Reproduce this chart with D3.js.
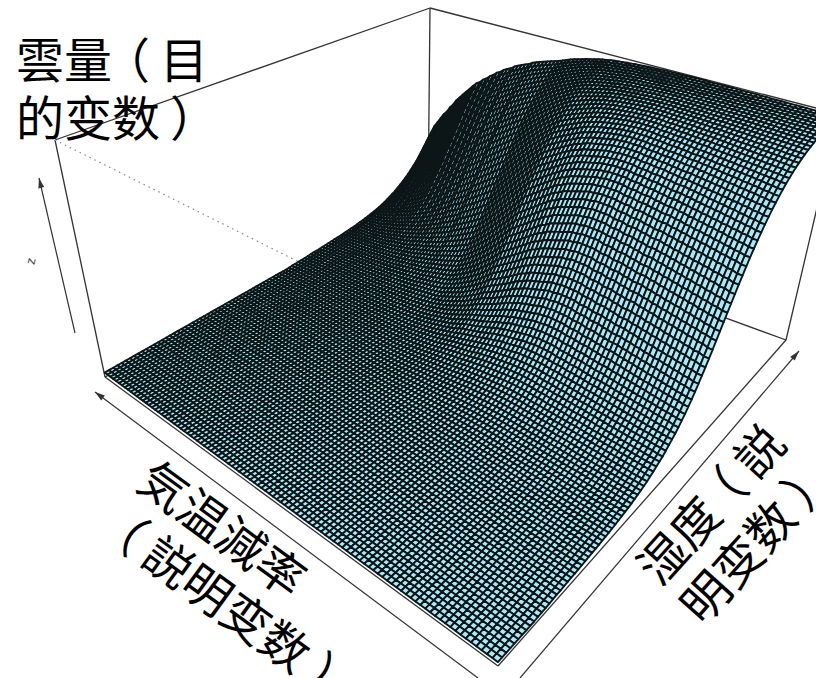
<!DOCTYPE html>
<meta charset="utf-8">
<style>
html, body { margin: 0; background: #fff; overflow: hidden; }
svg { display: block; }
.label { font-family: "Noto Sans CJK TC", "Noto Sans CJK JP", sans-serif; font-size: 48px; fill: #000; }
.box { stroke: #333; stroke-width: 1.3; fill: none; }
.hidden { stroke: #888; stroke-width: 1.2; stroke-dasharray: 1.5 4; fill: none; }
.arrow { stroke: #333; stroke-width: 1.2; fill: none; }
</style>
<body>
<script src="https://d3js.org/d3.v7.min.js"></script>
<script>
var riseProfile = [
  6,6,6,6,6,7,7,7,7,7,7,8,8,8,8,8,8,8,9,9,
  9,9,9,9,10,10,10,10,11,11,11,11,11,12,12,12,12,12,13,13,
  13,13,13,13,14,14,14,14,14,15,15,15,15,15,16,16,16,16,16,17,
  17,17,17,18,18,18,18,19,19,19,19,20,20,20,21,21,21,22,22,22,
  23,23,23,24,24,24,25,25,25,26,26,27,27,27,28,28,29,29,30,30,
  31,32,32,33,33,34,35,35,36,36,37,38,38,39,39,40,41,42,43,44,
  45,46,46,47,48,49,50,51,52,53,54,55,56,57,58,60,61,62,64,65,
  67,69,70,72,73,75,77,78,80,81,83,85,87,88,90,92,94,97,99,102,
  104,106,109,111,114,116,119,121,124,126,129,132,135,138,141,144,147,151,154,158,
  161,165,168,172,175,179,183,187,192,196,200,204,209,213,218,223,228,233,238,243,
  248,253,258,264,269,274,280,286,291,297,303,309,315,321,327,333,339,346,352,359,
  365,371,378,384,391,397,404,411,418,424,431,438,445,451,458,465,472,479,486,493,
  500,507,514,521,528,535,542,549,555,562,569,576,583,590,596,603,610,616,623,629,
  636,642,648,655,661,667,673,679,685,691,697,703,709,714,720,726,731,736,742,747,
  752,757,762,767,772,777,782,786,791,795,800,804,809,813,818,822,826,830,833,837,
  841,845,848,852,855,859,862,865,869,872,875,878,881,883,886,889,892,894,897,899,
  902,904,907,909,912,914,916,918,920,922,924,926,928,929,931,933,935,936,938,939,
  941,943,944,946,947,949,950,951,953,954,955,956,957,959,960,961,962,963,964,965,
  966,967,968,968,969,970,971,972,972,973,974,975,975,976,976,977,978,978,979,979,
  980,981,981,982,982,983,983,984,984,985,985,985,986,986,986,987,987,987,988,988,
  988
];
// how far the rise moves along humidity at each lapse rate step (1/4 cells)
var riseShift = [
  0,0,-1,-1,-2,-2,-3,-3,-4,-4,-5,-5,-6,-6,-7,-7,-8,-8,-8,-9,-9,-10,-10,-10,-11,-11,-11,-12,-12,-12,
  -12,-12,-11,-11,-10,-9,-8,-7,-6,-5,-3,-2,0,2,4,6,8,10,12,14,
  17,20,23,26,29,32,35,38,41,44,47,50,53,55,57,59,61,63,65,67,
  70,72,74,76,78,81,83,85,88,90,93,95,98,100,103,105,108,111,114,117,
  120,123,127,130,134,137,141,145,149,155,161
];
var meshCells = 100;
var riseStart = -32;
var labelLeft = ["気温減率", "（説明变数）"];
var labelRight = ["湿度（説", "明变数）"];
var labelZ = ["雲量（目", "的变数）"];

var width = 816, height = 678;

// box corners on screen: floor and top, going front, left, back, right
var floor = [[498, 666], [105, 377], [428, 209], [786, 340]];
var top_ = [[487, 356], [55, 140], [430, 8], [839, 114]];
// the resting sheet of the surface sits a little above the floor at the back
var sheet = [[498, 664], [105, 374], [428, 190], [786, 340]];

// unit square to quad (projective)
function quad(q) {
  var dx1 = q[1][0] - q[2][0], dx2 = q[3][0] - q[2][0], sx = q[0][0] - q[1][0] + q[2][0] - q[3][0];
  var dy1 = q[1][1] - q[2][1], dy2 = q[3][1] - q[2][1], sy = q[0][1] - q[1][1] + q[2][1] - q[3][1];
  var den = dx1 * dy2 - dx2 * dy1;
  var g = (sx * dy2 - dx2 * sy) / den, h = (dx1 * sy - sx * dy1) / den;
  var a = q[1][0] - q[0][0] + g * q[1][0], b = q[3][0] - q[0][0] + h * q[3][0];
  var d = q[1][1] - q[0][1] + g * q[1][1], e = q[3][1] - q[0][1] + h * q[3][1];
  return function(u, v) {
    var w = g * u + h * v + 1;
    return [(a * u + b * v + q[0][0]) / w, (d * u + e * v + q[0][1]) / w];
  };
}
var floorAt = quad(sheet), topAt = quad(top_);

var x = d3.scaleLinear().domain([0, meshCells]).range([0, 1]);
var y = d3.scaleLinear().domain([0, meshCells]).range([0, 1]);
var z = d3.scaleLinear().domain([0, 985]).range([0, 1]);

function cloud(i, j) {
  var k = 4 * j + riseStart - riseShift[i];
  return riseProfile[Math.max(0, Math.min(riseProfile.length - 1, k))];
}
function project(i, j) {
  var p = floorAt(x(i), y(j)), q = topAt(x(i), y(j)), t = z(cloud(i, j));
  return [p[0] + t * (q[0] - p[0]), p[1] + t * (q[1] - p[1])];
}

var svg = d3.select("body").append("svg")
    .attr("width", width)
    .attr("height", height)
    .attr("viewBox", "0 0 " + width + " " + height);

var defs = svg.append("defs");
defs.append("filter").attr("id", "soft")
    .attr("filterUnits", "userSpaceOnUse")
    .attr("x", 0).attr("y", 0)
    .attr("width", width).attr("height", height)
  .append("feGaussianBlur").attr("stdDeviation", 0.6);

var line = d3.line();

// back of the box
var backEdges = [[floor[1], floor[2]], [floor[2], floor[3]], [floor[1], top_[1]], [floor[2], top_[2]],
  [floor[3], top_[3]], [top_[1], top_[2]], [top_[2], top_[3]]];
svg.append("g").selectAll("path").data(backEdges).join("path")
    .attr("class", "box").attr("d", line);

var frontEdges = [[top_[1], top_[0]], [top_[0], top_[3]]];
svg.append("g").selectAll("path").data(frontEdges).join("path")
    .attr("class", "hidden").attr("d", line);

// front of the floor
var floorEdges = [[floor[1], floor[0]], [floor[0], floor[3]]];
svg.append("g").selectAll("path").data(floorEdges).join("path")
    .attr("class", "box").attr("d", line);

// surface, painted from the far corner to the near one
var cells = [];
d3.range(meshCells - 1, -1, -1).forEach(function(i) {
  d3.range(meshCells - 1, -1, -1).forEach(function(j) {
    cells.push([project(i, j), project(i + 1, j), project(i + 1, j + 1), project(i, j + 1)]);
  });
});
svg.append("g").attr("filter", "url(#soft)")
    .selectAll("path").data(cells).join("path")
    .attr("d", function(d) { return line(d) + "Z"; })
    .attr("fill", "#aee6f6")
    .attr("stroke", "#0a1416")
    .attr("stroke-width", 1.9)
    .attr("stroke-linejoin", "round");

// axis arrows
function arrow(from, to) {
  var a = Math.atan2(to[1] - from[1], to[0] - from[0]), s = 10, w = 3;
  svg.append("path").attr("class", "arrow").attr("d", line([from, to]));
  var bx = to[0] - s * Math.cos(a), by = to[1] - s * Math.sin(a);
  svg.append("path").attr("fill", "#333").attr("d", line([to,
    [bx - w * Math.sin(a), by + w * Math.cos(a)],
    [bx + w * Math.sin(a), by - w * Math.cos(a)]]) + "Z");
}
arrow([75, 333], [39, 178]);
arrow([478, 678], [95, 392]);
arrow([520, 678], [799, 351]);

svg.append("text").attr("transform", "translate(35,262) rotate(-77)")
    .attr("font-family", "Liberation Sans").attr("font-size", 13).attr("fill", "#444")
    .attr("text-anchor", "middle").text("z");

// labels; the full-width brackets sit centred in their cell in the picture
function label(lines, px, py, angle) {
  var g = svg.append("g").attr("transform", "translate(" + px + "," + py + ") rotate(" + angle + ")");
  g.selectAll("text").data(lines).join("text")
      .attr("class", "label")
      .attr("y", function(d, i) { return i * 58; })
    .selectAll("tspan").data(function(d) { return d.split(""); }).join("tspan")
      .attr("dx", function(c, i) {
        var prev = i ? d3.select(this.parentNode).datum()[i - 1] : "";
        if (c === "（") return -10;
        if (prev === "（" || c === "）") return 10;
        return 0;
      })
      .text(function(c) { return c; });
}
label(labelZ, 16, 78, 0);
label(labelLeft, 134, 487, 36);
label(labelRight, 660, 588, -48);
</script>
</body>
